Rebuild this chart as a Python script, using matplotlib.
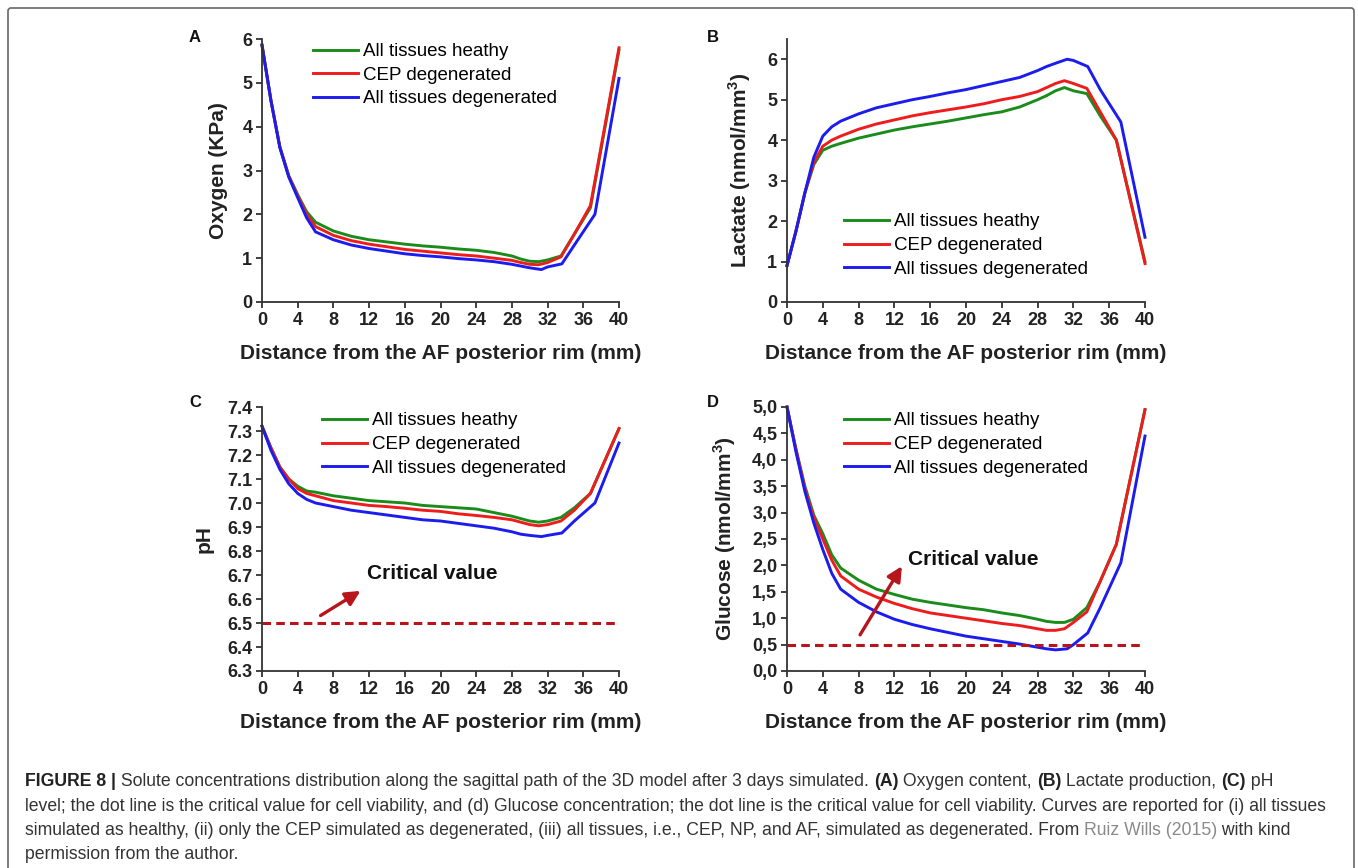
import matplotlib
matplotlib.use('Agg')
import matplotlib.pyplot as plt
from matplotlib.patches import FancyBboxPatch
from matplotlib.transforms import IdentityTransform
from matplotlib.ticker import FuncFormatter
import numpy as np

plt.rcParams['font.family'] = ['Liberation Sans', 'DejaVu Sans']
plt.rcParams['mathtext.fontset'] = 'custom'
plt.rcParams['mathtext.bf'] = 'Liberation Sans:bold'
plt.rcParams['mathtext.rm'] = 'Liberation Sans:bold'

# ---- data ----
x_h = [0, 1, 2, 3, 4, 5, 6, 8, 10, 12, 14, 16, 18, 20, 22, 24, 26, 28, 29, 30, 31, 32, 33.5, 35, 36.8, 40]
x_d = [0, 1, 2, 3, 4, 5, 6, 8, 10, 12, 14, 16, 18, 20, 22, 24, 26, 28, 29, 30, 31.3, 32, 33.6, 35, 37.3, 40]
labels = ['All tissues heathy', 'CEP degenerated', 'All tissues degenerated']

oxy_healthy = [5.86, 4.6, 3.54, 2.88, 2.45, 2.06, 1.82, 1.62, 1.5, 1.42, 1.37, 1.32, 1.28, 1.25, 1.21, 1.18, 1.13, 1.05, 0.98, 0.93, 0.92, 0.96, 1.05, 1.55, 2.15, 5.75]
oxy_cep = [5.86, 4.6, 3.54, 2.87, 2.42, 2.0, 1.72, 1.52, 1.4, 1.32, 1.26, 1.2, 1.16, 1.12, 1.08, 1.05, 1.0, 0.95, 0.9, 0.86, 0.85, 0.9, 1.03, 1.55, 2.2, 5.8]
oxy_all = [5.86, 4.6, 3.52, 2.85, 2.38, 1.92, 1.6, 1.42, 1.3, 1.22, 1.16, 1.1, 1.06, 1.03, 0.99, 0.96, 0.92, 0.86, 0.82, 0.78, 0.74, 0.8, 0.87, 1.3, 2.0, 5.1]

lac_healthy = [0.9, 1.75, 2.7, 3.4, 3.75, 3.85, 3.92, 4.05, 4.15, 4.25, 4.33, 4.4, 4.47, 4.55, 4.63, 4.7, 4.82, 5.0, 5.1, 5.22, 5.3, 5.22, 5.15, 4.6, 4.0, 1.0]
lac_cep = [0.9, 1.75, 2.7, 3.45, 3.85, 4.0, 4.1, 4.27, 4.4, 4.5, 4.6, 4.68, 4.75, 4.82, 4.9, 5.0, 5.08, 5.2, 5.3, 5.4, 5.47, 5.4, 5.28, 4.7, 4.0, 0.95]
lac_all = [0.9, 1.75, 2.7, 3.58, 4.1, 4.33, 4.47, 4.65, 4.8, 4.9, 5.0, 5.08, 5.17, 5.25, 5.35, 5.45, 5.55, 5.72, 5.82, 5.9, 6.0, 5.97, 5.82, 5.25, 4.45, 1.6]

ph_healthy = [7.32, 7.23, 7.15, 7.1, 7.07, 7.05, 7.045, 7.03, 7.02, 7.01, 7.005, 7.0, 6.99, 6.985, 6.98, 6.975, 6.96, 6.945, 6.935, 6.925, 6.92, 6.925, 6.94, 6.98, 7.04, 7.31]
ph_cep = [7.32, 7.23, 7.15, 7.1, 7.06, 7.04, 7.03, 7.01, 7.0, 6.99, 6.985, 6.978, 6.97, 6.965, 6.955, 6.948, 6.94, 6.93, 6.92, 6.91, 6.905, 6.91, 6.925, 6.97, 7.04, 7.31]
ph_all = [7.32, 7.22, 7.14, 7.08, 7.04, 7.015, 7.0, 6.985, 6.97, 6.96, 6.95, 6.94, 6.93, 6.925, 6.915, 6.905, 6.895, 6.88, 6.87, 6.865, 6.86, 6.865, 6.875, 6.925, 7.0, 7.25]

glu_healthy = [5.0, 4.2, 3.5, 2.95, 2.6, 2.2, 1.95, 1.72, 1.55, 1.45, 1.36, 1.3, 1.25, 1.2, 1.16, 1.1, 1.05, 0.98, 0.94, 0.92, 0.92, 0.98, 1.2, 1.7, 2.4, 4.95]
glu_cep = [5.0, 4.2, 3.45, 2.9, 2.5, 2.1, 1.8, 1.55, 1.4, 1.28, 1.18, 1.1, 1.05, 1.0, 0.95, 0.9, 0.86, 0.8, 0.77, 0.77, 0.8, 0.92, 1.12, 1.7, 2.4, 4.95]
glu_all = [5.0, 4.15, 3.4, 2.8, 2.3, 1.85, 1.55, 1.3, 1.12, 0.98, 0.88, 0.8, 0.73, 0.66, 0.61, 0.56, 0.51, 0.45, 0.42, 0.4, 0.42, 0.5, 0.72, 1.2, 2.05, 4.45]

ph_critical = 6.5
glu_critical = 0.5

colors = ['#1b8c1b', '#ee1c1c', '#1c1cee']
crit_color = '#b8141c'
spine_col = '#333333'

W, H = 1358, 868
fig = plt.figure(figsize=(W / 100, H / 100), dpi=100)


def px_axes(l, t, r, b):
    return fig.add_axes([l / W, (H - b) / H, (r - l) / W, (b - t) / H])


def style(ax, ylabel):
    for s in ['top', 'right']:
        ax.spines[s].set_visible(False)
    for s in ['left', 'bottom']:
        ax.spines[s].set_linewidth(1.3)
        ax.spines[s].set_color(spine_col)
    ax.tick_params(direction='out', length=4, width=1.3, color=spine_col,
                   labelsize=13, pad=3, labelcolor='#222222')
    ax.set_xlim(0, 40)
    ax.set_xticks(range(0, 41, 4))
    for lab in ax.get_xticklabels() + ax.get_yticklabels():
        lab.set_fontweight('bold')
    ax.set_xlabel('Distance from the AF posterior rim (mm)', fontsize=15,
                  fontweight='bold', labelpad=11, color='#222222')
    ax.set_ylabel(ylabel, fontsize=15, fontweight='bold', labelpad=10, color='#222222')


def curves(ax, ys, legend_pos):
    xs = [x_h, x_h, x_d]
    for x, y, c, lab in zip(xs, ys, colors, labels):
        ax.plot(x, y, color=c, lw=2.1, label=lab, clip_on=False)
    ax.legend(loc='upper left', bbox_to_anchor=legend_pos, frameon=False,
              fontsize=13.5, handlelength=2.4, handletextpad=0.25,
              labelspacing=0.35, borderpad=0, borderaxespad=0)


axA = px_axes(262, 39, 619, 302)
axB = px_axes(787, 39, 1145, 302)
axC = px_axes(262, 407, 619, 671)
axD = px_axes(787, 407, 1145, 671)

curves(axA, [oxy_healthy, oxy_cep, oxy_all], (0.143, 0.985))
axA.set_ylim(0, 6)
axA.set_yticks(range(0, 7))
style(axA, 'Oxygen (KPa)')

curves(axB, [lac_healthy, lac_cep, lac_all], (0.159, 0.337))
axB.set_ylim(0, 6.5)
axB.set_yticks(range(0, 7))
style(axB, r'Lactate (nmol/mm$^{\mathbf{3}}$)')

curves(axC, [ph_healthy, ph_cep, ph_all], (0.168, 0.98))
axC.set_ylim(6.3, 7.4)
axC.set_yticks(np.arange(6.3, 7.41, 0.1))
axC.yaxis.set_major_formatter(FuncFormatter(lambda v, p: f'{v:.1f}'))
style(axC, 'pH')

curves(axD, [glu_healthy, glu_cep, glu_all], (0.159, 0.98))
axD.set_ylim(0, 5)
axD.set_yticks(np.arange(0, 5.01, 0.5))
axD.yaxis.set_major_formatter(FuncFormatter(lambda v, p: f'{v:.1f}'.replace('.', ',')))
style(axD, r'Glucose (nmol/mm$^{\mathbf{3}}$)')

# critical value lines and arrows
axC.plot([0, 39.8], [ph_critical, ph_critical], color=crit_color, lw=2.2,
         linestyle=(0, (2.8, 1.7)))
axC.annotate('', xy=(11.3, 6.64), xytext=(6.3, 6.525),
             arrowprops=dict(arrowstyle='-|>', color=crit_color, lw=2.4, mutation_scale=22))
axC.text(11.8, 6.705, 'Critical value', fontsize=15, fontweight='bold',
         va='center', ha='left', color='#111111')

axD.plot([0, 40], [glu_critical, glu_critical], color=crit_color, lw=2.2,
         linestyle=(0, (2.8, 1.7)))
axD.annotate('', xy=(13.0, 2.03), xytext=(8.0, 0.64),
             arrowprops=dict(arrowstyle='-|>', color=crit_color, lw=2.4, mutation_scale=22))
axD.text(13.5, 2.11, 'Critical value', fontsize=15, fontweight='bold',
         va='center', ha='left', color='#111111')

# panel letters
for letter, (px, py) in zip('ABCD', [(195, 37), (713, 37), (195, 402), (713, 402)]):
    fig.text(px / W, (H - py) / H, letter, fontsize=12, fontweight='bold',
             ha='center', va='center', color='#111111')

# frame around figure
fig.patches.append(FancyBboxPatch((8, -40), W - 8 - 4, H - 8 + 40,
                                  boxstyle='round,pad=0,rounding_size=3',
                                  transform=IdentityTransform(), fill=False,
                                  edgecolor='#666666', lw=1.2))

# caption
caption = [
    [('FIGURE 8 |', 'bold', '#222222'),
     (' Solute concentrations distribution along the sagittal path of the 3D model after 3 days simulated. ', 'normal', '#333333'),
     ('(A)', 'bold', '#222222'), (' Oxygen content, ', 'normal', '#333333'),
     ('(B)', 'bold', '#222222'), (' Lactate production, ', 'normal', '#333333'),
     ('(C)', 'bold', '#222222'), (' pH', 'normal', '#333333')],
    [('level; the dot line is the critical value for cell viability, and (d) Glucose concentration; '
      'the dot line is the critical value for cell viability. Curves are reported for (i) all tissues',
      'normal', '#333333')],
    [('simulated as healthy, (ii) only the CEP simulated as degenerated, (iii) all tissues, i.e., '
      'CEP, NP, and AF, simulated as degenerated. From ', 'normal', '#333333'),
     ('Ruiz Wills (2015)', 'normal', '#8a8a8a'), (' with kind', 'normal', '#333333')],
    [('permission from the author.', 'normal', '#333333')],
]
baselines = [786, 811, 835, 859]
renderer = fig.canvas.get_renderer()
for line, base in zip(caption, baselines):
    xpos = 25
    for txt, wt, col in line:
        t = fig.text(xpos / W, (H - base) / H, txt, fontsize=12.7, fontweight=wt,
                     color=col, ha='left', va='baseline')
        xpos += t.get_window_extent(renderer).width

fig.savefig('out.png', dpi=100)
